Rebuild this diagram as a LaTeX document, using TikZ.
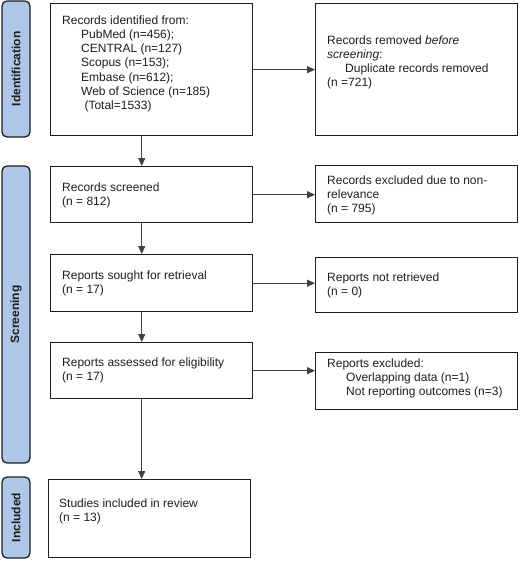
\documentclass[tikz,border=0pt]{standalone}
\usepackage{fontspec}
\setmainfont{Liberation Sans}
\usetikzlibrary{arrows.meta}
\definecolor{bandblue}{RGB}{174,199,232}
\definecolor{ink}{RGB}{30,30,30}
\begin{document}
\begin{tikzpicture}[x=1pt,y=-1pt,
  box/.style={draw=ink, line width=1.4pt, fill=white, inner sep=0pt, anchor=north west},
  band/.style={draw=ink, line width=1.3pt, fill=bandblue, rounded corners=5pt, rotate=90,
    inner sep=0pt, font=\bfseries\fontsize{12}{14}\selectfont, text=ink},
  lbl/.style={anchor=north west, inner sep=0pt, align=left, text=ink,
    font=\fontsize{12}{14.2}\selectfont},
  arr/.style={draw=ink!85, line width=0.9pt, -{Triangle[length=8pt,width=7pt]}}]
\useasboundingbox (0,0) rectangle (520,562);
% phase bands
\node[band, minimum width=136pt, minimum height=28pt] (bid) at (16,69) {Identification};
\node[band, minimum width=297pt, minimum height=28pt] (bsc) at (16,314.5) {Screening};
\node[band, minimum width=81pt, minimum height=28pt] (bin) at (16,517.5) {Included};
% boxes
\node[box, minimum width=202pt, minimum height=132pt] (B1) at (50,3) {};
\node[box, minimum width=202pt, minimum height=132pt] (R1) at (315,3) {};
\node[box, minimum width=202pt, minimum height=56pt] (B2) at (50,166) {};
\node[box, minimum width=202pt, minimum height=57pt] (R2) at (315,165) {};
\node[box, minimum width=202pt, minimum height=57pt] (B3) at (50,254) {};
\node[box, minimum width=202pt, minimum height=55pt] (R3) at (315,257) {};
\node[box, minimum width=202pt, minimum height=56pt] (B4) at (50,342) {};
\node[box, minimum width=202pt, minimum height=57pt] (R4) at (315,352) {};
\node[box, minimum width=202pt, minimum height=78pt] (B5) at (48,479) {};
% texts
\node[lbl] (tB1) at (62,15.5) {Records identified from:\\
\hspace*{19pt}PubMed (n=456);\\
\hspace*{19pt}CENTRAL (n=127)\\
\hspace*{19pt}Scopus (n=153);\\
\hspace*{19pt}Embase (n=612);\\
\hspace*{19pt}Web of Science (n=185)\\
\hspace*{19pt} (Total=1533)};
\node[lbl] (tR1) at (327,35.5) {Records removed \textit{before}\\
\textit{screening}:\\
\hspace*{18pt}Duplicate records removed\\
(n =721)};
\node[lbl] (tB2) at (62,182.5) {Records screened\\(n = 812)};
\node[lbl] (tR2) at (327,175.5) {Records excluded due to non-\\relevance\\(n = 795)};
\node[lbl] (tB3) at (62,270.5) {Reports sought for retrieval\\(n = 17)};
\node[lbl] (tR3) at (327,272.5) {Reports not retrieved\\(n = 0)};
\node[lbl] (tB4) at (62,357.5) {Reports assessed for eligibility\\(n = 17)};
\node[lbl] (tR4) at (327,358.5) {Reports excluded:\\
\hspace*{19pt}Overlapping data (n=1)\\
\hspace*{19pt}Not reporting outcomes (n=3)};
\node[lbl] (tB5) at (59,498.5) {Studies included in review\\(n = 13)};
% vertical arrows
\draw[arr] ([xshift=-10pt]B1.south) -- ([xshift=-10pt]B2.north);
\draw[arr] ([xshift=-10pt]B2.south) -- ([xshift=-10pt]B3.north);
\draw[arr] ([xshift=-10pt]B3.south) -- ([xshift=-10pt]B4.north);
\draw[arr] ([xshift=-10pt]B4.south) -- ([xshift=-10pt]B4.south |- B5.north);
% horizontal arrows
\draw[arr] (B1.east) -- (B1.east -| R1.west);
\draw[arr] (B2.east) -- (B2.east -| R2.west);
\draw[arr] (B3.east) -- (B3.east -| R3.west);
\draw[arr] (B4.east) -- (B4.east -| R4.west);
\end{tikzpicture}
\end{document}
